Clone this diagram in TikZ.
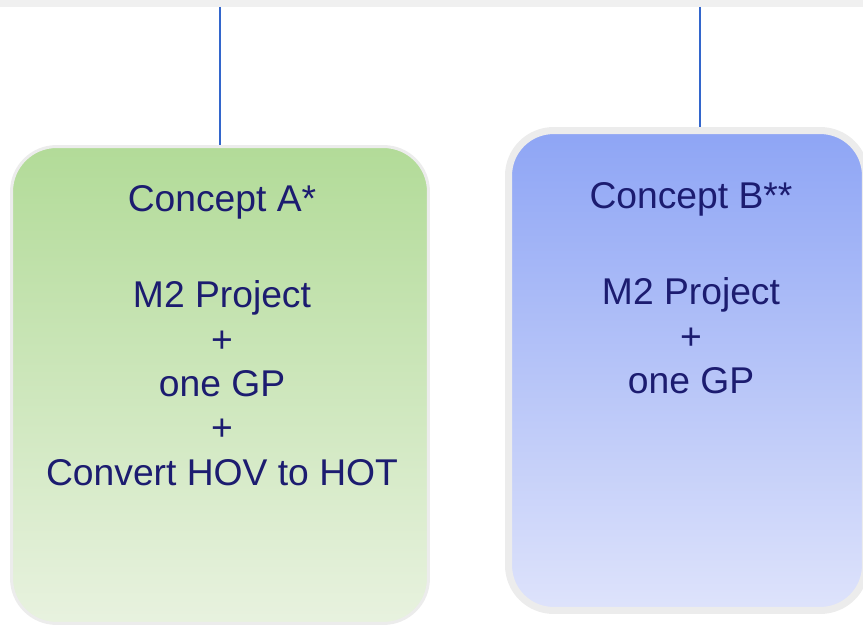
\documentclass[tikz,border=0pt]{standalone}
\usepackage{fontspec}
\setmainfont{Liberation Sans}
\definecolor{navy}{RGB}{28,28,112}
\definecolor{linkblue}{RGB}{51,102,204}
\definecolor{bandgray}{RGB}{240,240,240}
\definecolor{rimgray}{RGB}{236,236,236}
\definecolor{greentop}{RGB}{178,219,152}
\definecolor{greenbot}{RGB}{232,242,223}
\definecolor{bluetop}{RGB}{142,165,245}
\definecolor{bluebot}{RGB}{222,227,251}
\begin{document}
\begin{tikzpicture}[x=0.02cm,y=-0.02cm,
	conceptbox/.style={draw=rimgray, rounded corners=0.9cm, inner sep=0pt},
	boxtext/.style={text=navy, align=center, anchor=north, inner sep=0pt, font=\fontsize{21.2}{25.3}\selectfont},
	link/.style={draw=linkblue, line width=0.9pt}]
		\useasboundingbox (0,0) rectangle (863,625);
		\fill[bandgray] (0,0) rectangle (863,7);
			\node[conceptbox, line width=1.7pt, top color=greentop, bottom color=greenbot,
				minimum width=8.34cm, minimum height=9.54cm] (boxA) at (220,385) {};
			\node[conceptbox, line width=4pt, top color=bluetop, bottom color=bluebot,
				minimum width=7.14cm, minimum height=9.6cm] (boxB) at (687,370.5) {};
			\node[boxtext] (textA) at (222,185) {Concept A*\\[29.5pt] M2 Project\\ +\\ one GP\\ +\\ Convert HOV to HOT};
			\node[boxtext] (textB) at (691,182) {Concept B**\\[29.5pt] M2 Project\\ +\\ one GP};
			\coordinate (topA) at (220,7);
			\coordinate (topB) at (700,7);
			\draw[link] (topA) -- (boxA.north);
			\draw[link] (topB) -- (topB |- boxB.north);
\end{tikzpicture}
\end{document}
